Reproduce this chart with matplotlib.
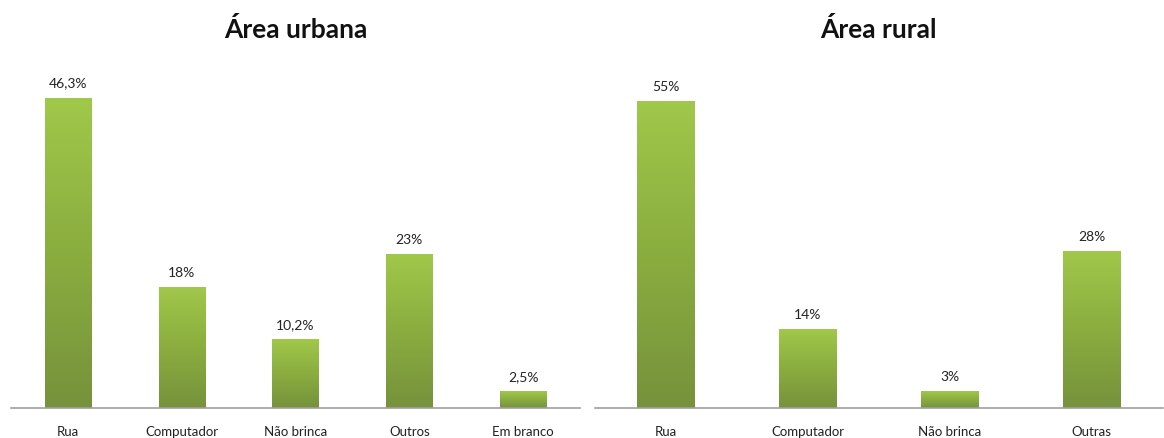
import numpy as np
import matplotlib
matplotlib.use("Agg")
import matplotlib.pyplot as plt
from matplotlib.colors import LinearSegmentedColormap

plt.rcParams['font.family'] = ['Lato', 'DejaVu Sans']

# data
urb_labels = ['Rua', 'Computador', 'Não brinca', 'Outros', 'Em branco']
urb_values = [46.3, 18, 10.2, 23, 2.5]
urb_text = ['46,3%', '18%', '10,2%', '23%', '2,5%']

rur_labels = ['Rua', 'Computador', 'Não brinca', 'Outras']
rur_values = [55, 14, 3, 28]
rur_text = ['55%', '14%', '3%', '28%']

green = LinearSegmentedColormap.from_list('g', ['#76923c', '#8aad3f', '#a0c84a'])
grad = np.linspace(0, 1, 256).reshape(-1, 1)

fig = plt.figure(figsize=(11.64, 4.38), dpi=100)
ax1 = fig.add_axes([0.0095, 0.069, 0.4888, 0.764])
ax2 = fig.add_axes([0.511, 0.069, 0.488, 0.764])


def draw(ax, labels, values, texts, ymax, title):
    x = np.arange(len(labels))
    bars = ax.bar(x, values, width=0.405, color='none', edgecolor='none')
    for b in bars:
        x0, w, h = b.get_x(), b.get_width(), b.get_height()
        ax.imshow(grad, extent=[x0, x0 + w, 0, h], origin='lower', aspect='auto',
                  cmap=green, zorder=2)
    for xi, v, t in zip(x, values, texts):
        ax.annotate(t, (xi, v), xytext=(0, 6), textcoords='offset points',
                    ha='center', va='bottom', fontsize=10, color='#222222')
    ax.set_xlim(-0.5, len(labels) - 0.5)
    ax.set_ylim(0, ymax)
    ax.set_xticks(x)
    ax.set_xticklabels(labels, fontsize=9.5, color='#222222')
    ax.tick_params(axis='x', length=0, pad=13)
    ax.set_yticks([])
    for s in ['top', 'right', 'left']:
        ax.spines[s].set_visible(False)
    ax.spines['bottom'].set_color('#a0a0a0')
    ax.spines['bottom'].set_linewidth(1.2)
    ax.set_title(title, fontsize=19, fontweight='bold', pad=25, color='#111111')


draw(ax1, urb_labels, urb_values, urb_text, 50, 'Área urbana')
draw(ax2, rur_labels, rur_values, rur_text, 60, 'Área rural')

fig.savefig('out.png', dpi=100)
